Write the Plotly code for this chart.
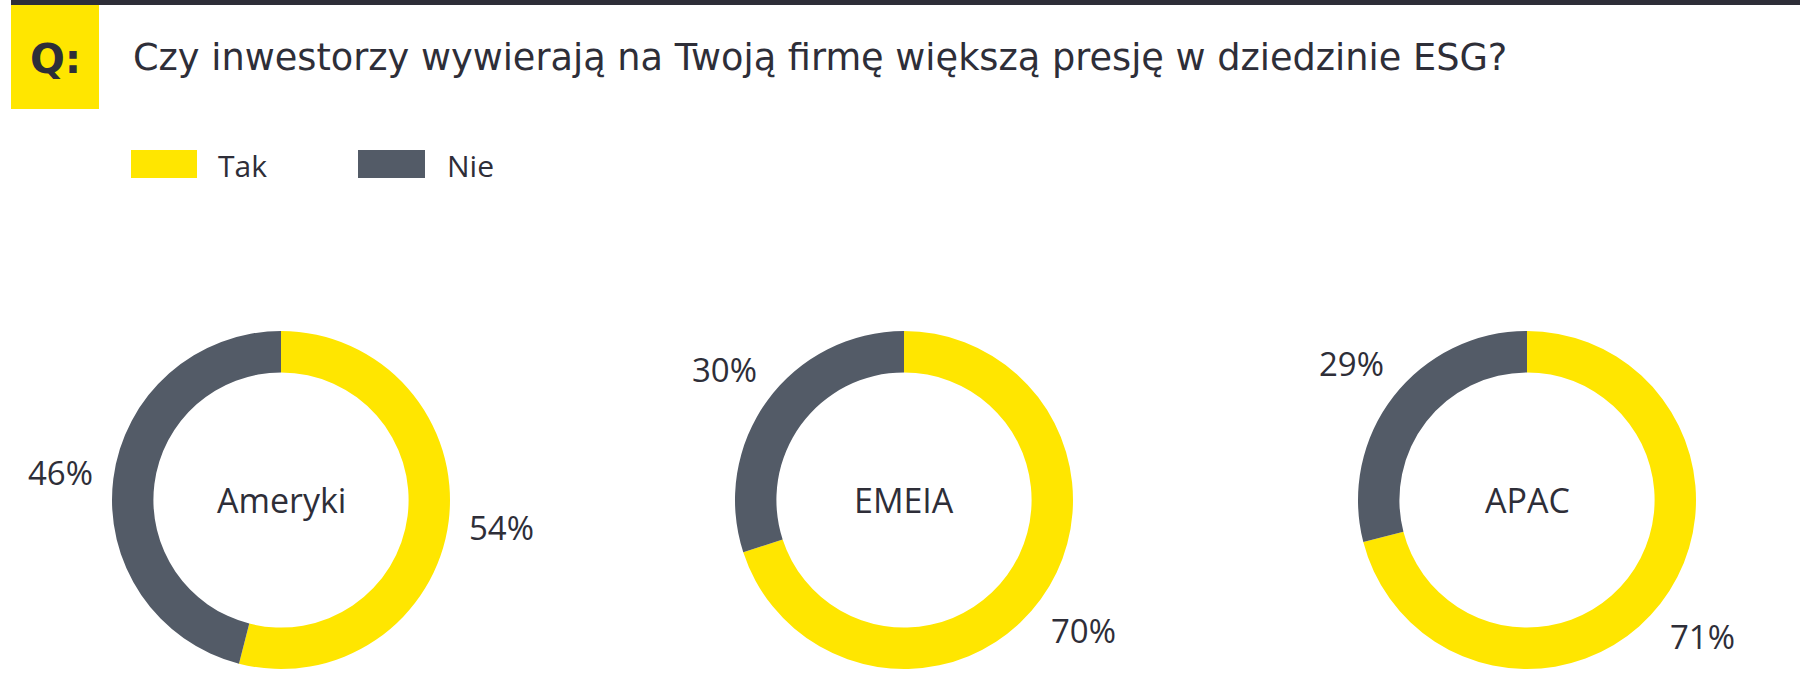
import math
import plotly.graph_objects as go

# ---- data ----
regions = ["Ameryki", "EMEIA", "APAC"]
answers = ["Tak", "Nie"]
tak_values = [54, 70, 71]
nie_values = [46, 30, 29]
title_text = "Czy inwestorzy wywierają na Twoją firmę większą presję w dziedzinie ESG?"

# ---- style ----
W, H = 1800, 694
YELLOW = "#FFE600"
GRAY = "#535B67"
DARK = "#2E2E38"
FONT = "Open Sans"
TITLE_FONT = "DejaVu Sans"

centers_x = [281, 904, 1527]   # px
center_y = 500                 # px from top
R_OUT = 169                    # px
HOLE = 0.755
LABEL_R = 222                  # px, distance of % labels from centre

fig = go.Figure()
annotations = []

for i, reg in enumerate(regions):
    cx = centers_x[i]
    vals = [tak_values[i], nie_values[i]]
    fig.add_trace(go.Pie(
        labels=answers,
        values=vals,
        hole=HOLE,
        sort=False,
        direction="clockwise",
        rotation=0,
        marker=dict(colors=[YELLOW, GRAY], line=dict(width=0)),
        textinfo="none",
        hoverinfo="label+percent",
        showlegend=False,
        domain=dict(x=[(cx - R_OUT) / W, (cx + R_OUT) / W],
                    y=[(H - center_y - R_OUT) / H, (H - center_y + R_OUT) / H]),
    ))
    # centre label
    annotations.append(dict(text=reg, x=cx / W, y=(H - center_y) / H, xref="paper", yref="paper",
                            showarrow=False, xanchor="center", yanchor="middle",
                            font=dict(family=FONT, size=34, color=DARK)))
    # percentage labels at the mid-angle of each slice
    total = sum(vals)
    start = 0.0
    for v in vals:
        mid = (start + v / 2) / total * 2 * math.pi
        start += v
        lx = cx + LABEL_R * math.sin(mid)
        ly = center_y - LABEL_R * math.cos(mid)
        annotations.append(dict(text=f"{v}%", x=lx / W, y=(H - ly) / H, xref="paper", yref="paper",
                                showarrow=False, xanchor="center", yanchor="middle",
                                font=dict(family=FONT, size=33, color=DARK)))

# header: dark top rule, yellow Q box, title
shapes = [
    dict(type="rect", xref="paper", yref="paper", x0=11 / W, x1=1.0, y0=1 - 5 / H, y1=1.0,
         fillcolor=DARK, line=dict(width=0), layer="above"),
    dict(type="rect", xref="paper", yref="paper", x0=11 / W, x1=99 / W, y0=1 - 109 / H, y1=1 - 5 / H,
         fillcolor=YELLOW, line=dict(width=0)),
    # legend swatches
    dict(type="rect", xref="paper", yref="paper", x0=131 / W, x1=197 / W, y0=1 - 178 / H, y1=1 - 150 / H,
         fillcolor=YELLOW, line=dict(width=0)),
    dict(type="rect", xref="paper", yref="paper", x0=358 / W, x1=425 / W, y0=1 - 178 / H, y1=1 - 150 / H,
         fillcolor=GRAY, line=dict(width=0)),
]

annotations += [
    dict(text="<b>Q:</b>", x=55 / W, y=1 - 59 / H, xref="paper", yref="paper", showarrow=False,
         xanchor="center", yanchor="middle", font=dict(family=TITLE_FONT, size=41, color=DARK)),
    dict(text=title_text, x=131 / W, y=1 - 57 / H, xref="paper", yref="paper", showarrow=False,
         xanchor="left", yanchor="middle", font=dict(family=TITLE_FONT, size=36.7, color=DARK)),
    dict(text=answers[0], x=216 / W, y=1 - 165 / H, xref="paper", yref="paper", showarrow=False,
         xanchor="left", yanchor="middle", font=dict(family=FONT, size=30, color=DARK)),
    dict(text=answers[1], x=445 / W, y=1 - 165 / H, xref="paper", yref="paper", showarrow=False,
         xanchor="left", yanchor="middle", font=dict(family=FONT, size=30, color=DARK)),
]

fig.update_layout(
    width=W, height=H,
    margin=dict(l=0, r=0, t=0, b=0),
    paper_bgcolor="white", plot_bgcolor="white",
    shapes=shapes, annotations=annotations,
    showlegend=False,
)

fig.write_html("out.html")
